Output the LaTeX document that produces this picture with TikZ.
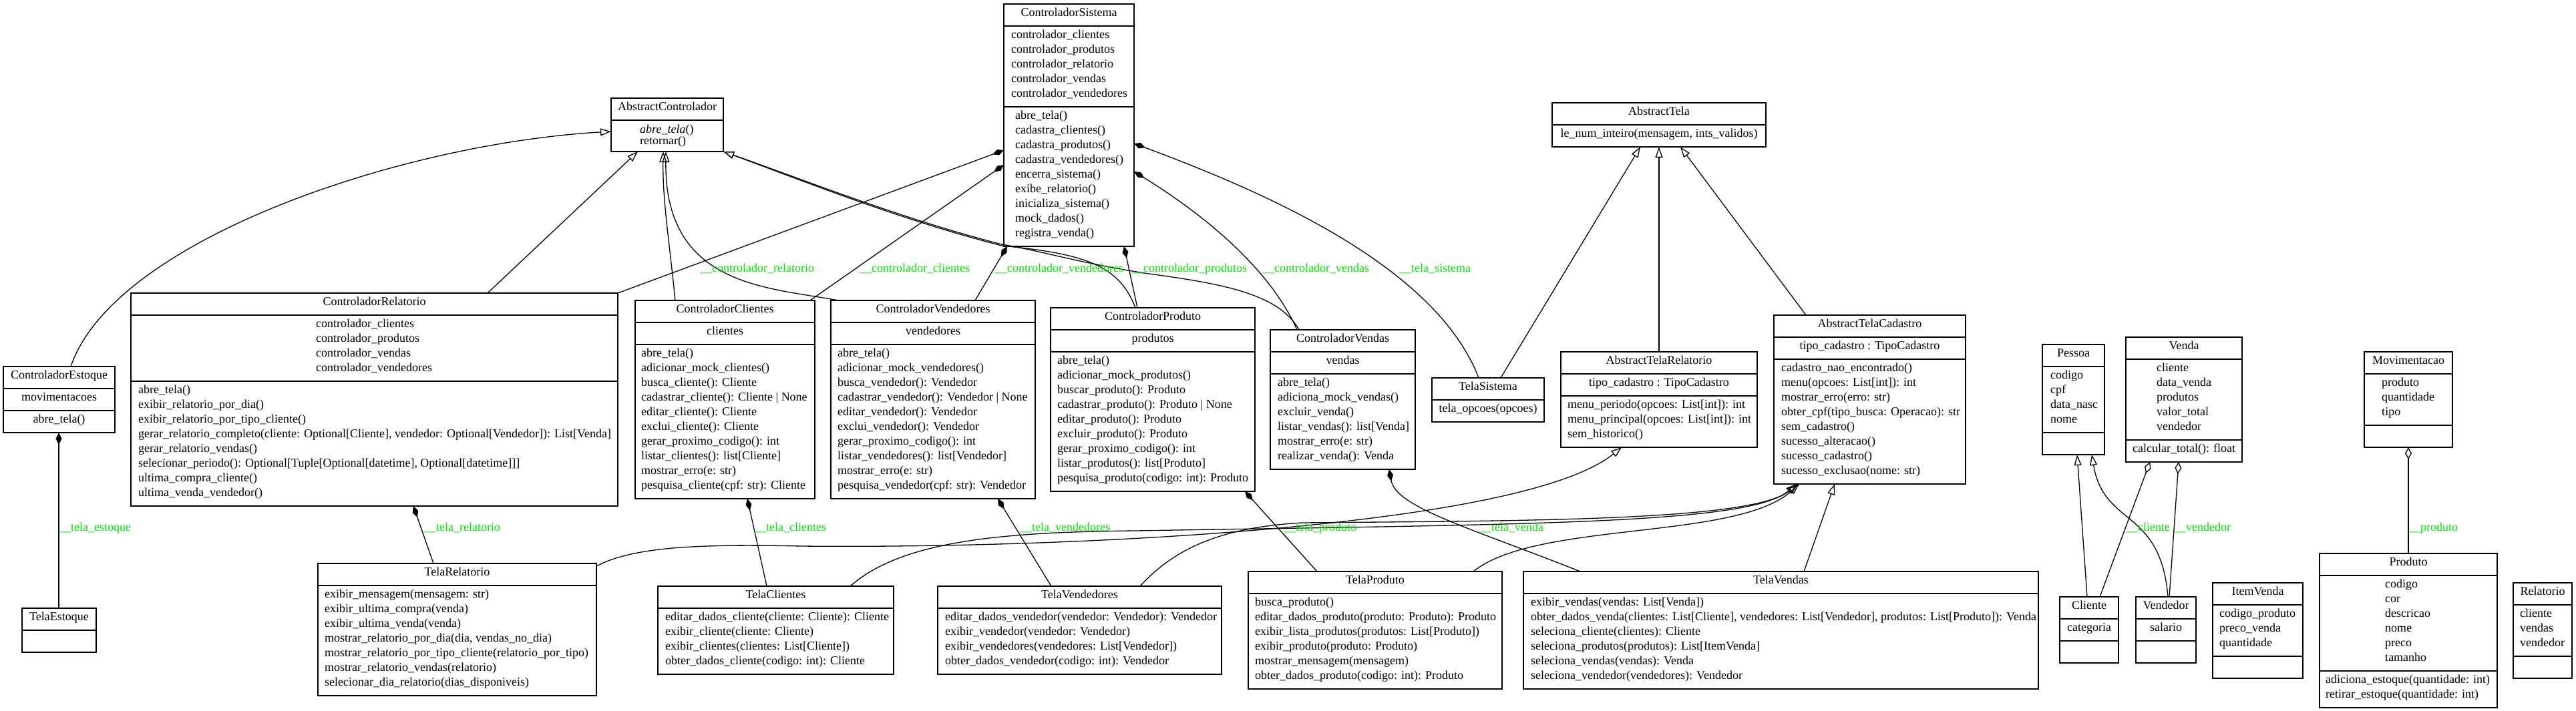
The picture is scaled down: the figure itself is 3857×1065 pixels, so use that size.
\documentclass[tikz,border=0pt]{standalone}
\usepackage{fontspec}
\setmainfont{Liberation Serif}
\usetikzlibrary{arrows.meta}
\definecolor{lblgreen}{RGB}{0,230,0}
\newcount\tcnt
\newcommand\ubox[5]{\node[ubx, minimum width={#4pt-#2pt}, minimum height={#5pt-#3pt}] (#1) at (#2,#3) {};}
\newcommand\udiv[2]{\draw[divl] (#1.west |- 0,#2) -- (#1.east |- 0,#2);}
\newcommand\hdiv[2]{\draw[hdivl] (#1.west |- 0,#2) -- (#1.east |- 0,#2);}
\newcommand\tlines[4][22]{\foreach \s [count=\i from 0] in {#4}{\global\advance\tcnt by 1 \node[txt,anchor=mid west] (t\the\tcnt) at (#2,{#3+#1*\i}) {\s};}}
\newcommand\ctext[3]{\global\advance\tcnt by 1 \node[txt,anchor=mid] (t\the\tcnt) at (#1,#2) {#3};}
\newcommand\elabel[4]{\node[lbltxt] (#1) at (#2,#3) {#4};}
\begin{document}
\begin{tikzpicture}[x=1pt,y=-1pt,
  ubx/.style={draw, line width=1.6pt, inner sep=0pt, outer sep=0pt, anchor=north west},
  divl/.style={line width=1.6pt},
  hdivl/.style={line width=2.3pt},
  txt/.style={inner sep=0pt, font=\fontsize{18}{22}\selectfont},
  lbltxt/.style={inner sep=0pt, anchor=mid west, text=lblgreen, font=\fontsize{18}{22}\selectfont},
  edge/.style={line width=1.3pt},
  gen/.style={edge, -{Triangle[open, length=16pt, width=11pt, line width=1.3pt]}},
  comp/.style={edge, {Diamond[length=18pt, width=9pt]}-},
  aggr/.style={edge, {Diamond[open, length=18pt, width=10pt, line width=1.3pt]}-}]
\fill[white] (0,0) rectangle (3857,1065);
\useasboundingbox (0,0) rectangle (3857,1065);

% ---------------- AbstractControlador
\ubox{actl}{915}{147}{1083}{227}
\hdiv{actl}{180}
\ctext{999}{163.5}{AbstractControlador}
\tlines[17]{958}{197}{{\itshape abre\_tela}(), retornar()}

% ---------------- ControladorSistema
\ubox{csys}{1503}{6}{1698}{369}
\hdiv{csys}{39}\udiv{csys}{160}
\ctext{1600.5}{22.5}{ControladorSistema}
\tlines{1514}{55.5}{controlador\_clientes, controlador\_produtos, controlador\_relatorio, controlador\_vendas, controlador\_vendedores}
\tlines{1520}{176.5}{abre\_tela(), cadastra\_clientes(), cadastra\_produtos(), cadastra\_vendedores(), encerra\_sistema(), exibe\_relatorio(), inicializa\_sistema(), mock\_dados(), registra\_venda()}

% ---------------- ControladorRelatorio
\ubox{crel}{196}{439}{925}{758}
\hdiv{crel}{472}\udiv{crel}{571}
\ctext{560.5}{455.5}{ControladorRelatorio}
\tlines{473}{488.5}{controlador\_clientes, controlador\_produtos, controlador\_vendas, controlador\_vendedores}
\tlines{207}{587.5}{abre\_tela(), exibir\_relatorio\_por\_dia(), exibir\_relatorio\_por\_tipo\_cliente(), {gerar\_relatorio\_completo(cliente: Optional[Cliente], vendedor: Optional[Vendedor]): List[Venda]}, gerar\_relatorio\_vendas(), {selecionar\_periodo(): Optional[Tuple[Optional[datetime], Optional[datetime]]]}, ultima\_compra\_cliente(), ultima\_venda\_vendedor()}

% ---------------- ControladorEstoque
\ubox{cest}{5}{549}{172}{648}
\hdiv{cest}{582}\udiv{cest}{615}
\ctext{88.5}{565.5}{ControladorEstoque}
\ctext{88.5}{598.5}{movimentacoes}
\ctext{88.5}{631.5}{abre\_tela()}

% ---------------- ControladorClientes
\ubox{ccli}{951}{450}{1220}{747}
\hdiv{ccli}{483}\udiv{ccli}{516}
\ctext{1085.5}{466.5}{ControladorClientes}
\ctext{1085.5}{499.5}{clientes}
\tlines{960}{532.5}{abre\_tela(), adicionar\_mock\_clientes(), busca\_cliente(): Cliente, cadastrar\_cliente(): Cliente | None, editar\_cliente(): Cliente, exclui\_cliente(): Cliente, gerar\_proximo\_codigo(): int, listar\_clientes(): list[Cliente], mostrar\_erro(e: str), pesquisa\_cliente(cpf: str): Cliente}

% ---------------- ControladorVendedores
\ubox{cven}{1244}{450}{1550}{747}
\hdiv{cven}{483}\udiv{cven}{516}
\ctext{1397}{466.5}{ControladorVendedores}
\ctext{1397}{499.5}{vendedores}
\tlines{1254}{532.5}{abre\_tela(), adicionar\_mock\_vendedores(), busca\_vendedor(): Vendedor, cadastrar\_vendedor(): Vendedor | None, editar\_vendedor(): Vendedor, exclui\_vendedor(): Vendedor, gerar\_proximo\_codigo(): int, listar\_vendedores(): list[Vendedor], mostrar\_erro(e: str), pesquisa\_vendedor(cpf: str): Vendedor}

% ---------------- ControladorProduto
\ubox{cpro}{1573}{461}{1879}{736}
\hdiv{cpro}{494}\udiv{cpro}{527}
\ctext{1726}{477.5}{ControladorProduto}
\ctext{1726}{510.5}{produtos}
\tlines{1583}{543.5}{abre\_tela(), adicionar\_mock\_produtos(), buscar\_produto(): Produto, cadastrar\_produto(): Produto | None, editar\_produto(): Produto, excluir\_produto(): Produto, gerar\_proximo\_codigo(): int, listar\_produtos(): list[Produto], pesquisa\_produto(codigo: int): Produto}

% ---------------- ControladorVendas
\ubox{cvds}{1902}{494}{2119}{703}
\hdiv{cvds}{527}\udiv{cvds}{560}
\ctext{2010.5}{510.5}{ControladorVendas}
\ctext{2010.5}{543.5}{vendas}
\tlines{1913}{576.5}{abre\_tela(), adiciona\_mock\_vendas(), excluir\_venda(), listar\_vendas(): list[Venda], mostrar\_erro(e: str), realizar\_venda(): Venda}

% ---------------- TelaSistema
\ubox{tsis}{2144}{566}{2312}{632}
\hdiv{tsis}{599}
\ctext{2228}{582.5}{TelaSistema}
\ctext{2228}{615.5}{tela\_opcoes(opcoes)}

% ---------------- AbstractTela
\ubox{atela}{2324}{154}{2644}{220}
\hdiv{atela}{187}
\ctext{2484}{170.5}{AbstractTela}
\ctext{2484}{203.5}{le\_num\_inteiro(mensagem, ints\_validos)}

% ---------------- AbstractTelaRelatorio
\ubox{atrel}{2337}{527}{2631}{670}
\hdiv{atrel}{560}\udiv{atrel}{593}
\ctext{2484}{543.5}{AbstractTelaRelatorio}
\ctext{2484}{576.5}{tipo\_cadastro : TipoCadastro}
\tlines{2347}{609.5}{menu\_periodo(opcoes: List[int]): int, menu\_principal(opcoes: List[int]): int, sem\_historico()}

% ---------------- AbstractTelaCadastro
\ubox{atcad}{2656}{472}{2943}{725}
\hdiv{atcad}{505}\udiv{atcad}{538}
\ctext{2799.5}{488.5}{AbstractTelaCadastro}
\ctext{2799.5}{521.5}{tipo\_cadastro : TipoCadastro}
\tlines{2667}{554.5}{cadastro\_nao\_encontrado(), menu(opcoes: List[int]): int, mostrar\_erro(erro: str), obter\_cpf(tipo\_busca: Operacao): str, sem\_cadastro(), sucesso\_alteracao(), sucesso\_cadastro(), sucesso\_exclusao(nome: str)}

% ---------------- Pessoa
\ubox{pes}{3058}{516}{3151}{681}
\hdiv{pes}{549}\udiv{pes}{648}
\ctext{3104.5}{532.5}{Pessoa}
\tlines{3070}{565.5}{codigo, cpf, data\_nasc, nome}

% ---------------- Venda
\ubox{ven}{3183}{505}{3357}{692}
\hdiv{ven}{538}\udiv{ven}{659}
\ctext{3270}{521.5}{Venda}
\tlines{3229}{554.5}{cliente, data\_venda, produtos, valor\_total, vendedor}
\ctext{3270}{675.5}{calcular\_total(): float}

% ---------------- Movimentacao
\ubox{mov}{3540}{527}{3672}{670}
\hdiv{mov}{560}\udiv{mov}{637}
\ctext{3606}{543.5}{Movimentacao}
\tlines{3566}{576.5}{produto, quantidade, tipo}

% ---------------- Cliente
\ubox{cli}{3084}{894}{3172}{993}
\hdiv{cli}{927}\udiv{cli}{960}
\ctext{3128}{910.5}{Cliente}
\ctext{3128}{943.5}{categoria}

% ---------------- Vendedor
\ubox{vdr}{3198}{894}{3288}{993}
\hdiv{vdr}{927}\udiv{vdr}{960}
\ctext{3243}{910.5}{Vendedor}
\ctext{3243}{943.5}{salario}

% ---------------- ItemVenda
\ubox{itv}{3313}{873}{3448}{1016}
\hdiv{itv}{906}\udiv{itv}{983}
\ctext{3380.5}{889.5}{ItemVenda}
\tlines{3323}{922.5}{codigo\_produto, preco\_venda, quantidade}

% ---------------- Produto
\ubox{prod}{3473}{829}{3739}{1060}
\hdiv{prod}{862}\udiv{prod}{1005}
\ctext{3606}{845.5}{Produto}
\tlines{3571}{878.5}{codigo, cor, descricao, nome, preco, tamanho}
\tlines{3482}{1021.5}{adiciona\_estoque(quantidade: int), retirar\_estoque(quantidade: int)}

% ---------------- Relatorio
\ubox{rel}{3763}{873}{3851}{1016}
\hdiv{rel}{906}\udiv{rel}{983}
\ctext{3807}{889.5}{Relatorio}
\tlines{3773}{922.5}{cliente, vendas, vendedor}

% ---------------- TelaEstoque
\ubox{test}{33}{911}{144}{977}
\hdiv{test}{944}
\ctext{88.5}{927.5}{TelaEstoque}

% ---------------- TelaRelatorio
\ubox{trel}{476}{844}{893}{1042}
\hdiv{trel}{877}
\ctext{684.5}{860.5}{TelaRelatorio}
\tlines{486}{893.5}{exibir\_mensagem(mensagem: str), exibir\_ultima\_compra(venda), exibir\_ultima\_venda(venda), {mostrar\_relatorio\_por\_dia(dia, vendas\_no\_dia)}, mostrar\_relatorio\_por\_tipo\_cliente(relatorio\_por\_tipo), mostrar\_relatorio\_vendas(relatorio), selecionar\_dia\_relatorio(dias\_disponiveis)}

% ---------------- TelaClientes
\ubox{tcli}{985}{878}{1338}{1010}
\hdiv{tcli}{911}
\ctext{1161.5}{894.5}{TelaClientes}
\tlines{996}{927.5}{editar\_dados\_cliente(cliente: Cliente): Cliente, exibir\_cliente(cliente: Cliente), exibir\_clientes(clientes: List[Cliente]), obter\_dados\_cliente(codigo: int): Cliente}

% ---------------- TelaVendedores
\ubox{tvdr}{1404}{878}{1829}{1010}
\hdiv{tvdr}{911}
\ctext{1616.5}{894.5}{TelaVendedores}
\tlines{1415}{927.5}{editar\_dados\_vendedor(vendedor: Vendedor): Vendedor, exibir\_vendedor(vendedor: Vendedor), exibir\_vendedores(vendedores: List[Vendedor]), obter\_dados\_vendedor(codigo: int): Vendedor}

% ---------------- TelaProduto
\ubox{tpro}{1869}{856}{2249}{1032}
\hdiv{tpro}{889}
\ctext{2059}{872.5}{TelaProduto}
\tlines{1879}{905.5}{busca\_produto(), editar\_dados\_produto(produto: Produto): Produto, exibir\_lista\_produtos(produtos: List[Produto]), exibir\_produto(produto: Produto), mostrar\_mensagem(mensagem), obter\_dados\_produto(codigo: int): Produto}

% ---------------- TelaVendas
\ubox{tvds}{2281}{856}{3052}{1032}
\hdiv{tvds}{889}
\ctext{2666.5}{872.5}{TelaVendas}
\tlines{2292}{905.5}{exibir\_vendas(vendas: List[Venda]), {obter\_dados\_venda(clientes: List[Cliente], vendedores: List[Vendedor], produtos: List[Produto]): Venda}, seleciona\_cliente(clientes): Cliente, seleciona\_produtos(produtos): List[ItemVenda], seleciona\_vendas(vendas): Venda, seleciona\_vendedor(vendedores): Vendedor}

% ================= connectors
% generalizations to AbstractControlador
\draw[gen] (cest.north -| 106,0) .. controls (170,360) and (600,215) .. (actl.west |- 0,197);
\draw[gen] (crel.north -| 730,0) -- (actl.south -| 955,0);
\draw[gen] (ccli.north -| 1011,0) .. controls (1002,360) and (992,300) .. (actl.south -| 993,0);
\draw[gen] (cven.north -| 1255,0) .. controls (1150,430) and (995,430) .. (actl.south -| 997,0);
\draw[gen] (cpro.north -| 1700,0) .. controls (1675,395) and (1620,380) .. (1500,368) .. controls (1350,330) and (1200,270) .. (actl.south east);
\draw[gen] (cvds.north -| 1945,0) .. controls (1915,440) and (1830,425) .. (1720,410) .. controls (1620,395) and (1560,376) .. (1500,366) .. controls (1350,328) and (1200,268) .. (actl.south east);

% compositions from ControladorSistema
\draw[comp] (csys.west |- 0,225) -- (crel.north east);
\draw[comp] (csys.west |- 0,247) -- (ccli.north -| 1213,0);
\draw[comp] (csys.south -| 1508,0) -- (cven.north -| 1460,0);
\draw[comp] (csys.south -| 1683,0) -- (cpro.north -| 1703,0);
\draw[comp] (csys.east |- 0,257) .. controls (1800,320) and (1900,400) .. (cvds.north -| 1942,0);
\draw[comp] (csys.east |- 0,215) .. controls (1900,290) and (2150,400) .. (tsis.north -| 2214,0);

% compositions controllers -> screens
\draw[comp] (cest.south -| 88,0) -- (test.north -| 88,0);
\draw[comp] (crel.south -| 619,0) -- (trel.north -| 649,0);
\draw[comp] (ccli.south -| 1119,0) -- (tcli.north -| 1148,0);
\draw[comp] (cven.south -| 1494,0) -- (tvdr.north -| 1574,0);
\draw[comp] (cpro.south -| 1864,0) -- (tpro.north -| 1972,0);
\draw[comp] (cvds.south -| 2080,0) .. controls (2090,760) and (2200,790) .. (tvds.north -| 2366,0);

% generalizations to AbstractTela
\draw[gen] (tsis.north -| 2247,0) -- (atela.south -| 2456,0);
\draw[gen] (atrel.north -| 2484,0) -- (atela.south -| 2484,0);
\draw[gen] (atcad.north -| 2704,0) -- (atela.south -| 2516,0);

% generalization to AbstractTelaRelatorio
\draw[gen] (trel.east |- 0,848) .. controls (950,818) and (1050,815) .. (1200,818) .. controls (1600,822) and (2280,790) .. (atrel.south -| 2428,0);

% generalizations to AbstractTelaCadastro
\draw[gen] (tcli.north -| 1273,0) .. controls (1350,810) and (1500,797) .. (1700,795) .. controls (2300,785) and (2620,785) .. (atcad.south -| 2690,0);
\draw[gen] (tvdr.north -| 1707,0) .. controls (1760,820) and (1830,790) .. (1950,783) .. controls (2300,780) and (2625,780) .. (atcad.south -| 2692,0);
\draw[gen] (tpro.north -| 2206,0) .. controls (2300,780) and (2600,810) .. (atcad.south -| 2694,0);
\draw[gen] (tvds.north -| 2701,0) -- (atcad.south -| 2747,0);

% right-hand model classes
\draw[aggr] (ven.south -| 3219,0) -- (cli.north -| 3144,0);
\draw[aggr] (ven.south -| 3262,0) -- (vdr.north -| 3248,0);
\draw[gen] (cli.north -| 3125,0) -- (pes.south -| 3110,0);
\draw[gen] (vdr.north -| 3246,0) .. controls (3235,760) and (3150,790) .. (pes.south -| 3132,0);
\draw[aggr] (mov.south -| 3606,0) -- (prod.north -| 3606,0);

% ================= labels
\elabel{l1}{1048}{405}{\_\_controlador\_relatorio}
\elabel{l2}{1287}{405}{\_\_controlador\_clientes}
\elabel{l3}{1490}{405}{\_\_controlador\_vendedores}
\elabel{l4}{1694}{405}{\_\_controlador\_produtos}
\elabel{l5}{1890}{405}{\_\_controlador\_vendas}
\elabel{l6}{2095}{405}{\_\_tela\_sistema}
\elabel{l7}{88}{793}{\_\_tela\_estoque}
\elabel{l8}{635}{793}{\_\_tela\_relatorio}
\elabel{l9}{1129}{793}{\_\_tela\_clientes}
\elabel{l10}{1527}{793}{\_\_tela\_vendedores}
\elabel{l11}{1922}{793}{\_\_tela\_produto}
\elabel{l12}{2215}{793}{\_\_tela\_venda}
\elabel{l13}{3183}{793}{\_\_cliente}
\elabel{l14}{3255}{793}{\_\_vendedor}
\elabel{l15}{3606}{793}{\_\_produto}
\end{tikzpicture}
\end{document}
